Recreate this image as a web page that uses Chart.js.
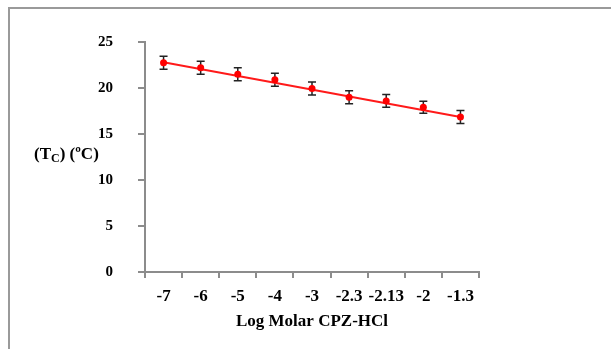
<!DOCTYPE html>
<html>
<head>
<meta charset="utf-8">
<script src="https://cdn.jsdelivr.net/npm/chart.js@4/dist/chart.umd.min.js"></script>
<style>
  body { margin: 0; background: #fff; }
  canvas { display: block; }
</style>
</head>
<body>
<canvas id="tcChart" width="611" height="349"></canvas>
<script>
// Values
const categories = ['-7', '-6', '-5', '-4', '-3', '-2.3', '-2.13', '-2', '-1.3'];
const tcValues = [22.75, 22.2, 21.5, 20.9, 19.95, 19.0, 18.6, 17.9, 16.85];
const tcErrors = [0.7, 0.7, 0.7, 0.7, 0.7, 0.7, 0.7, 0.65, 0.7];
const trendValues = [22.8, null, null, null, null, null, null, null, 16.85];
const yTicks = [0, 5, 10, 15, 20, 25];

const serif = '"Liberation Serif", "Times New Roman", serif';
const xFont = { family: serif, size: 17, weight: 'bold' };
const yFont = { family: serif, size: 15, weight: 'bold' };

// frame lines + error bars + y axis label
const extras = {
    id: 'extras',
    beforeDraw(chart) {
        const c = chart.ctx;
        c.save();
        c.strokeStyle = '#9a9a9a';
        c.lineWidth = 2;
        c.beginPath();
        c.moveTo(9, 349);
        c.lineTo(9, 8);
        c.lineTo(611, 8);
        c.stroke();
        c.restore();
    },
    beforeDatasetsDraw(chart) {
        const c = chart.ctx;
        const x = chart.scales.x, y = chart.scales.y;
        c.save();
        c.strokeStyle = '#222';
        c.lineWidth = 1.5;
        tcValues.forEach((v, i) => {
            const px = x.getPixelForValue(i);
            const top = y.getPixelForValue(v + tcErrors[i]);
            const bot = y.getPixelForValue(v - tcErrors[i]);
            c.beginPath();
            c.moveTo(px, top); c.lineTo(px, bot);
            c.moveTo(px - 4, top); c.lineTo(px + 4, top);
            c.moveTo(px - 4, bot); c.lineTo(px + 4, bot);
            c.stroke();
        });
        c.restore();
    },
    afterDraw(chart) {
        const c = chart.ctx;
        c.save();
        c.fillStyle = '#000';
        c.textBaseline = 'alphabetic';
        let x = 34;
        const base = 159;
        const parts = [['(T', 0], ['C', 1], [') (ºC)', 0]];
        parts.forEach(([t, sub]) => {
            c.font = sub ? 'bold 12px ' + serif : 'bold 17px ' + serif;
            c.fillText(t, x, sub ? base + 3 : base);
            x += c.measureText(t).width;
        });
        c.restore();
    }
};

new Chart(document.getElementById('tcChart').getContext('2d'), {
    type: 'line',
    data: {
        labels: categories,
        datasets: [{
            label: 'Tc',
            data: tcValues,
            showLine: false,
            pointRadius: 3.5,
            pointBackgroundColor: '#ff0000',
            pointBorderColor: '#ff0000',
            pointBorderWidth: 0
        }, {
            label: 'Trend',
            data: trendValues,
            spanGaps: true,
            borderColor: '#ff1a1a',
            borderWidth: 2,
            pointRadius: 0
        }]
    },
    options: {
        responsive: false,
        animation: false,
        layout: { padding: { left: 0, top: 42, right: 132, bottom: 0 } },
        plugins: {
            legend: { display: false },
            tooltip: { enabled: false }
        },
        scales: {
            x: {
                offset: true,
                afterFit(scale) { scale.height = 77; },
                grid: { offset: true, drawOnChartArea: false, tickLength: 6, color: '#8c8c8c', lineWidth: 2 },
                border: { color: '#8c8c8c', width: 2 },
                ticks: { color: '#000', font: xFont, padding: 8, maxRotation: 0, autoSkip: false },
                title: { display: true, text: 'Log Molar CPZ-HCl', color: '#000', font: xFont, padding: { top: 0, bottom: 17 } }
            },
            y: {
                min: 0,
                max: 25,
                afterFit(scale) { scale.width = 145; },
                afterBuildTicks(scale) { scale.ticks = yTicks.map(v => ({ value: v })); },
                grid: { drawOnChartArea: false, tickLength: 7, color: '#8c8c8c', lineWidth: 2 },
                border: { color: '#8c8c8c', width: 2 },
                ticks: { color: '#000', font: yFont, padding: 25 }
            }
        }
    },
    plugins: [extras]
});
</script>
</body>
</html>
